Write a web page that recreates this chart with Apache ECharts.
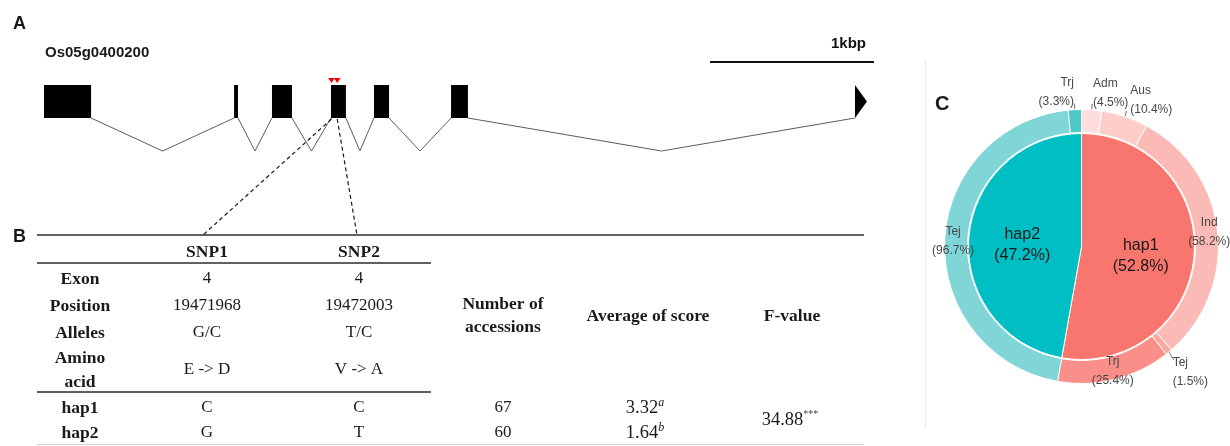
<!DOCTYPE html>
<html>
<head>
<meta charset="utf-8">
<script src="https://cdn.jsdelivr.net/npm/echarts@6/dist/echarts.min.js"></script>
<style>
  html, body { margin: 0; padding: 0; background: #fff; }
  #chart { width: 1230px; height: 446px; }
</style>
</head>
<body>
<div id="chart"></div>
<script>
// ---- Gene model of Os05g0400200 (bp, relative to the first exon start) ----
const geneStartPos = 19470215;
const exonStart = [0, 1159, 1390, 1750, 2012, 2482, 4945];
const exonEnd   = [287, 1183, 1512, 1841, 2104, 2585, 5018];
const scaleBarStart = 4061;
const scaleBarLength = 1000;
const scaleBarLabel = '1kbp';
const geneName = 'Os05g0400200';

// ---- SNP / haplotype table ----
const snpNames = ['SNP1', 'SNP2'];
const rowLabels = ['Exon', 'Position', 'Alleles', 'Amino\nacid'];
const snpExon = ['4', '4'];
const snpPositions = [19471968, 19472003];
const snpAlleles = ['G/C', 'T/C'];
const snpAminoAcid = ['E -> D', 'V -> A'];
const haplotypes = ['hap1', 'hap2'];
const hapAlleles = [['C', 'C'], ['G', 'T']];
const statHeaders = ['Number of\naccessions', 'Average of score', 'F-value'];
const hapAccessions = [67, 60];
const hapScore = [3.32, 1.64];
const hapScoreGroup = ['a', 'b'];
const fValue = 34.88;
const fSignif = '***';

// ---- Haplotype composition by subpopulation (%) ----
const hapShare = [52.8, 47.2];
const subgroupNames = [['Adm', 'Aus', 'Ind', 'Tej', 'Trj'], ['Tej', 'Trj']];
const subgroupShare = [[4.5, 10.4, 58.2, 1.5, 25.4], [96.7, 3.3]];

// ---- styling ----
const hapColors = ['#F8766D', '#00BFC4'];
const ringColors = [
  ['#FDDEDC', '#FCCDC9', '#FBBAB5', '#FAA9A3', '#F98F88'],
  ['#80D5D7', '#4CC8CB']
];
const PIE_CX = 1081.5, PIE_CY = 246.5, PIE_R = 113, RING_IN = 114, RING_OUT = 137;
// per ring slice: where its label sits
const ringLabelPlace = [
  { pos: 'out', r: 154, dA: 0, align: 'left' },
  { pos: 'out', r: 154, dA: 0, align: 'left' },
  { pos: 'in' },
  { pos: 'out', r: 155, dA: 3.6, align: 'left', lineEnd: [1, -12] },
  { pos: 'in' },
  { pos: 'in' },
  { pos: 'out', r: 154, dA: 0, align: 'right' }
];
const SERIF = '"Liberation Serif", "Times New Roman", serif';
const SANS = '"Liberation Sans", Arial, sans-serif';
const INK = '#1a1a1a';

// table layout (px)
const tbl = {
  left: 37, right: 864, midRight: 431,
  topRule: 235, headRule: 263, bodyRule: 392, bottom: 444.5,
  labelX: 80, snpX: [207, 359], connectX: [203, 357],
  rowY: [279, 306, 333, 370], headY: 252, hapY: [408, 433],
  accX: 503, scoreX: 645, fX: 790, statHeadY: 316
};

// ---- ring data ----
const outerData = [];
subgroupNames.forEach(function (names, h) {
  names.forEach(function (n, k) {
    const pl = ringLabelPlace[outerData.length];
    const item = {
      name: n,
      value: hapShare[h] * subgroupShare[h][k] / 100,
      share: subgroupShare[h][k],
      itemStyle: { color: ringColors[h][k] }
    };
    if (pl.pos === 'in') {
      item.label = { position: 'inside' };
      item.labelLine = { show: false };
    }
    outerData.push(item);
  });
});
const ringTotal = outerData.reduce(function (s, d) { return s + d.value; }, 0);
const ringMid = [];
(function () {
  let acc = 0;
  outerData.forEach(function (d) {
    ringMid.push((acc + d.value / 2) / ringTotal * 360);
    acc += d.value;
  });
})();

const innerData = haplotypes.map(function (h, i) {
  return { name: h, value: hapShare[i], itemStyle: { color: hapColors[i] } };
});

// ---- table as graphic elements ----
function txt(x, y, text, font, align, extra) {
  const style = Object.assign({
    text: text, font: font, fill: INK,
    align: align || 'center', textAlign: align || 'center',
    verticalAlign: 'middle', textVerticalAlign: 'middle'
  }, extra || {});
  return { type: 'text', x: x, y: y, silent: true, style: style };
}
function rule(x1, x2, y, w, c) {
  return { type: 'line', silent: true, shape: { x1: x1, y1: y, x2: x2, y2: y }, style: { stroke: c || '#2b2b2b', lineWidth: w || 1.5 } };
}
const boldSerif = 'bold 17.5px ' + SERIF;
const regSerif = '17px ' + SERIF;
const graphics = [];
// panel letters and titles
graphics.push(txt(13, 24, 'A', 'bold 18px ' + SANS, 'left'));
graphics.push(txt(13, 237, 'B', 'bold 18px ' + SANS, 'left'));
graphics.push(txt(935, 104, 'C', 'bold 20px ' + SANS, 'left'));
graphics.push(txt(45, 53, geneName, 'bold 15px ' + SANS, 'left'));
// panel C frame
graphics.push({ type: 'line', silent: true, shape: { x1: 925.5, y1: 60, x2: 925.5, y2: 428 }, style: { stroke: '#ececec', lineWidth: 1 } });
// rules
graphics.push(rule(tbl.left, tbl.right, tbl.topRule));
graphics.push(rule(tbl.left, tbl.midRight, tbl.headRule));
graphics.push(rule(tbl.left, tbl.midRight, tbl.bodyRule));
graphics.push(rule(tbl.left, tbl.right, tbl.bottom, 1, '#d4d4d4'));
// SNP header
snpNames.forEach(function (s, i) { graphics.push(txt(tbl.snpX[i], tbl.headY, s, boldSerif)); });
// row labels
rowLabels.forEach(function (r, i) { graphics.push(txt(tbl.labelX, tbl.rowY[i], r, boldSerif, 'center', { lineHeight: 24 })); });
// SNP attributes
const snpCols = [snpExon, snpPositions.map(String), snpAlleles, snpAminoAcid];
snpCols.forEach(function (col, r) {
  col.forEach(function (v, i) { graphics.push(txt(tbl.snpX[i], tbl.rowY[r], v, regSerif)); });
});
// haplotype rows
haplotypes.forEach(function (h, j) {
  graphics.push(txt(tbl.labelX, tbl.hapY[j], h, boldSerif));
  hapAlleles[j].forEach(function (a, i) { graphics.push(txt(tbl.snpX[i], tbl.hapY[j], a, regSerif)); });
  graphics.push(txt(tbl.accX, tbl.hapY[j], String(hapAccessions[j]), regSerif));
  graphics.push(txt(tbl.scoreX, tbl.hapY[j], '{v|' + hapScore[j].toFixed(2) + '}{s|' + hapScoreGroup[j] + '}', regSerif, 'center', {
    rich: {
      v: { font: '18.5px ' + SERIF, fill: INK, lineHeight: 22 },
      s: { font: 'italic 12px ' + SERIF, fill: INK, lineHeight: 12, verticalAlign: 'top' }
    }
  }));
});
// statistic headers
graphics.push(txt(tbl.accX, tbl.statHeadY, statHeaders[0], boldSerif, 'center', { lineHeight: 23 }));
graphics.push(txt(tbl.scoreX + 3, tbl.statHeadY, statHeaders[1], boldSerif));
graphics.push(txt(tbl.fX + 2, tbl.statHeadY, statHeaders[2], boldSerif));
graphics.push(txt(tbl.fX, (tbl.hapY[0] + tbl.hapY[1]) / 2, '{v|' + fValue.toFixed(2) + '}{s|' + fSignif + '}', regSerif, 'center', {
  rich: {
    v: { font: '18.5px ' + SERIF, fill: INK, lineHeight: 22 },
    s: { font: '10px ' + SERIF, fill: '#444', lineHeight: 10, verticalAlign: 'top' }
  }
}));

// ---- chart ----
const chart = echarts.init(document.getElementById('chart'), null, { renderer: 'canvas', width: 1230, height: 446 });

const option = {
  animation: false,
  backgroundColor: '#ffffff',
  grid: { left: 44, top: 52, width: 852.8, height: 99, containLabel: false },
  xAxis: { type: 'value', min: 0, max: 5200, show: false },
  yAxis: { type: 'value', min: -1, max: 2, show: false },
  graphic: { elements: graphics },
  series: [
    // introns
    {
      type: 'custom', clip: false, silent: true,
      data: exonEnd.slice(0, -1).map(function (e, i) { return [e, exonStart[i + 1]]; }),
      renderItem: function (params, api) {
        const a = api.value(0), b = api.value(1);
        const p0 = api.coord([a, 0]), pm = api.coord([(a + b) / 2, -1]), p1 = api.coord([b, 0]);
        return { type: 'polyline', shape: { points: [p0, pm, p1] }, style: { stroke: '#5c5c5c', lineWidth: 1, fill: null } };
      }
    },
    // exons (last one drawn as the 3' arrow)
    {
      type: 'custom', clip: false, silent: true,
      data: exonStart.map(function (s, i) { return [s, exonEnd[i], i === exonStart.length - 1 ? 1 : 0]; }),
      renderItem: function (params, api) {
        const p0 = api.coord([api.value(0), 1]);
        const p1 = api.coord([api.value(1), 0]);
        if (api.value(2) === 1) {
          return { type: 'polygon', shape: { points: [[p0[0], p0[1]], [p1[0], (p0[1] + p1[1]) / 2], [p0[0], p1[1]]] }, style: { fill: '#000' } };
        }
        return { type: 'rect', shape: { x: p0[0], y: p0[1], width: p1[0] - p0[0], height: p1[1] - p0[1] }, style: { fill: '#000' } };
      }
    },
    // scale bar
    {
      type: 'custom', clip: false, silent: true,
      data: [[scaleBarStart, scaleBarStart + scaleBarLength]],
      renderItem: function (params, api) {
        const p0 = api.coord([api.value(0), 1.7]);
        const p1 = api.coord([api.value(1), 1.7]);
        return {
          type: 'group', children: [
            { type: 'line', shape: { x1: p0[0], y1: p0[1], x2: p1[0], y2: p1[1] }, style: { stroke: '#111', lineWidth: 2 } },
            { type: 'text', x: p1[0] - 8, y: p1[1] - 18, style: { text: scaleBarLabel, font: 'bold 15px ' + SANS, fill: '#111', align: 'right', textAlign: 'right', verticalAlign: 'middle', textVerticalAlign: 'middle' } }
          ]
        };
      }
    },
    // SNP markers and connectors to the table
    {
      type: 'custom', clip: false, silent: true,
      data: snpPositions.map(function (p) { return [p - geneStartPos]; }),
      renderItem: function (params, api) {
        const i = params.dataIndex;
        const top = api.coord([api.value(0), 1]);
        const bot = api.coord([api.value(0), 0]);
        const x = top[0];
        return {
          type: 'group', children: [
            { type: 'polygon', shape: { points: [[x - 3.3, top[1] - 7], [x + 3.3, top[1] - 7], [x, top[1] - 2]] }, style: { fill: '#F20000' } },
            { type: 'line', shape: { x1: x, y1: bot[1] + 1, x2: tbl.connectX[i], y2: tbl.topRule }, style: { stroke: '#1a1a1a', lineWidth: 1.2, lineDash: [4, 3] } }
          ]
        };
      }
    },
    // haplotype pie
    {
      type: 'pie', silent: true, center: [PIE_CX, PIE_CY], radius: [0, PIE_R],
      startAngle: 90, clockwise: true, avoidLabelOverlap: false,
      itemStyle: { borderColor: '#fff', borderWidth: 1 },
      label: {
        position: 'inside', color: INK, fontFamily: SANS, fontSize: 16, lineHeight: 21,
        formatter: function (p) { return p.name + '\n(' + p.value.toFixed(1) + '%)'; }
      },
      labelLayout: function () { return { dy: 4 }; },
      labelLine: { show: false },
      emphasis: { disabled: true },
      data: innerData
    },
    // subpopulation ring
    {
      type: 'pie', silent: true, center: [PIE_CX, PIE_CY], radius: [RING_IN, RING_OUT],
      startAngle: 90, clockwise: true, avoidLabelOverlap: false,
      itemStyle: { borderColor: '#fff', borderWidth: 1 },
      label: {
        position: 'outside', color: '#474747', fontFamily: SANS, fontSize: 12, lineHeight: 19,
        formatter: function (p) { return p.name + '\n(' + p.data.share.toFixed(1) + '%)'; }
      },
      labelLine: { show: true, length: 4, length2: 2, smooth: false, lineStyle: { color: '#4d4d4d', width: 0.8 } },
      labelLayout: function (p) {
        const pl = ringLabelPlace[p.dataIndex];
        if (!pl || pl.pos !== 'out') return {};
        const mid = ringMid[p.dataIndex] * Math.PI / 180;
        const a = (ringMid[p.dataIndex] + pl.dA) * Math.PI / 180;
        const x = PIE_CX + pl.r * Math.sin(a);
        const y = PIE_CY - pl.r * Math.cos(a);
        const s = [PIE_CX + RING_OUT * Math.sin(mid), PIE_CY - RING_OUT * Math.cos(mid)];
        const e = pl.lineEnd ? [x + pl.lineEnd[0], y + pl.lineEnd[1]]
          : [PIE_CX + (RING_OUT + 6) * Math.sin(mid), PIE_CY - (RING_OUT + 6) * Math.cos(mid)];
        return { x: x, y: y, align: pl.align, verticalAlign: 'middle', labelLinePoints: [s, e, e] };
      },
      emphasis: { disabled: true },
      data: outerData
    }
  ]
};
chart.setOption(option);
</script>
</body>
</html>
